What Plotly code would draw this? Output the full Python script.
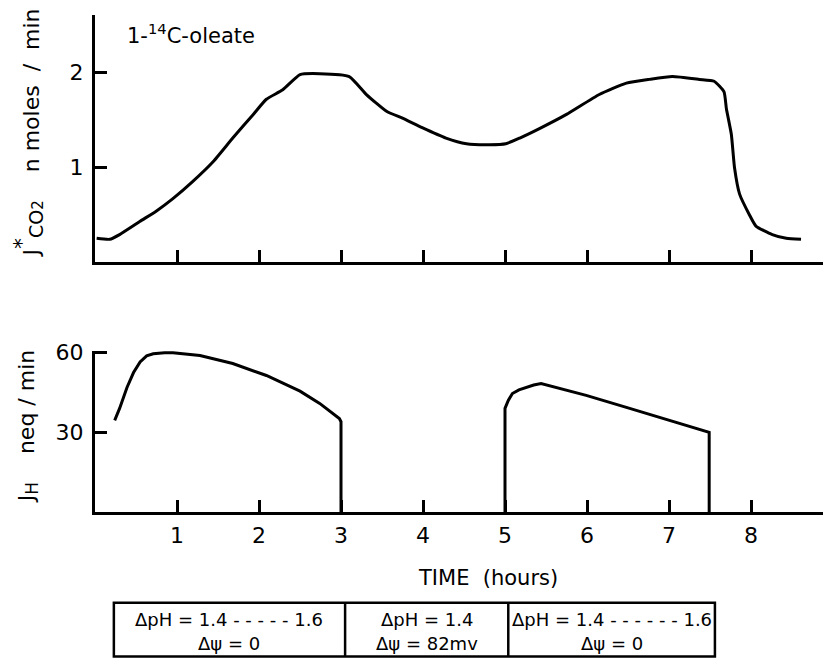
import plotly.graph_objects as go

# ---------------- data ----------------
# Top panel: J*CO2 (n moles / min) versus time (hours)
co2_time = [0.02, 0.18, 0.30, 0.55, 0.75, 0.95, 1.19, 1.44, 1.68, 1.93, 2.09, 2.29,
            2.50, 2.74, 3.10, 3.31, 3.56, 3.75, 3.99, 4.28, 4.53, 4.81, 5.01, 5.18,
            5.42, 5.75, 6.15, 6.48, 6.76, 7.04, 7.37, 7.55, 7.67, 7.70, 7.76, 7.80,
            7.86, 7.98, 8.06, 8.26, 8.43, 8.61]
co2_rate = [0.25, 0.24, 0.29, 0.43, 0.54, 0.67, 0.85, 1.06, 1.31, 1.56, 1.72, 1.82,
            1.98, 1.99, 1.96, 1.77, 1.59, 1.52, 1.42, 1.31, 1.25, 1.24, 1.25, 1.31,
            1.41, 1.56, 1.77, 1.89, 1.93, 1.96, 1.93, 1.91, 1.80, 1.62, 1.35, 0.99,
            0.72, 0.50, 0.38, 0.29, 0.25, 0.24]

# Bottom panel: J_H (neq / min), first and second energised periods
jh1_time = [0.24, 0.30, 0.39, 0.47, 0.55, 0.63, 0.71, 0.85, 0.95, 1.28, 1.68, 2.09,
            2.50, 2.74, 2.98, 3.00, 3.00]
jh1_rate = [34.5, 39.0, 46.9, 52.5, 56.5, 58.8, 59.6, 60.0, 60.0, 58.9, 55.9, 51.4,
            45.5, 40.9, 35.2, 34.0, 0.0]
jh2_time = [5.00, 5.00, 5.04, 5.09, 5.17, 5.26, 5.35, 5.44, 5.99, 6.48, 6.97, 7.49, 7.49]
jh2_rate = [0.0, 39.0, 42.0, 44.6, 46.0, 46.9, 47.8, 48.4, 43.9, 39.4, 34.9, 30.0, 0.0]

x_ticks = [1, 2, 3, 4, 5, 6, 7, 8]
x_tick_labels = ["1", "2", "3", "4", "5", "6", "7", "8"]
co2_ticks = [1, 2]
jh_ticks = [30, 60]

# Experimental phases shown in the table under the time axis
phase_bounds = [0.23, 3.05, 5.04, 7.56]
phase_line1 = ["ΔpH = 1.4 - - - - - 1.6", "ΔpH = 1.4", "ΔpH = 1.4 - - - - - - 1.6"]
phase_line2 = ["Δψ = 0", "Δψ = 82mv", "Δψ = 0"]

# ---------------- layout geometry ----------------
W, H = 828, 659
ML, MR, MT, MB = 95, 5, 13, 147
PH = H - MT - MB


def py(pix):
    """pixel row -> paper y"""
    return (H - MB - pix) / PH


def px(pix):
    """pixel column -> paper x"""
    return (pix - ML) / (W - ML - MR)


FONT = "DejaVu Sans"
BLACK = "black"

fig = go.Figure()
line_style = dict(color=BLACK, width=3)
fig.add_trace(go.Scatter(x=co2_time, y=co2_rate, mode="lines",
                         line=dict(shape="spline", smoothing=0.5, **line_style),
                         xaxis="x", yaxis="y", showlegend=False, hoverinfo="skip"))
fig.add_trace(go.Scatter(x=jh1_time, y=jh1_rate, mode="lines", line=line_style,
                         xaxis="x2", yaxis="y2", showlegend=False, hoverinfo="skip"))
fig.add_trace(go.Scatter(x=jh2_time, y=jh2_rate, mode="lines", line=line_style,
                         xaxis="x2", yaxis="y2", showlegend=False, hoverinfo="skip"))

axis_common = dict(showline=True, linecolor=BLACK, linewidth=3, ticks="inside",
                   ticklen=12, tickwidth=2.5, tickcolor=BLACK, showgrid=False,
                   zeroline=False, tickfont=dict(family=FONT, size=22, color=BLACK))
xmax = (W - ML - MR) / 82.0

fig.update_layout(
    width=W, height=H,
    margin=dict(l=ML, r=MR, t=MT, b=MB),
    paper_bgcolor="white", plot_bgcolor="white",
    font=dict(family=FONT, color=BLACK),
    xaxis=dict(domain=[0, 1], anchor="y", range=[0, xmax], tickvals=x_ticks,
               showticklabels=False, **axis_common),
    yaxis=dict(domain=[py(261), 1], anchor="x", range=[0, (261 - MT) / 95.0],
               tickvals=co2_ticks, ticklabelstandoff=4, **axis_common),
    xaxis2=dict(domain=[0, 1], anchor="y2", range=[0, xmax], tickvals=x_ticks,
                ticktext=x_tick_labels, ticklabelstandoff=2, **axis_common),
    yaxis2=dict(domain=[0, py(350)], anchor="x2", range=[0, (H - MB - 350) / 80.0 * 30],
                tickvals=jh_ticks, ticklabelstandoff=4, **axis_common),
)

shapes = [dict(type="rect", xref="x2", yref="paper", x0=phase_bounds[0], x1=phase_bounds[-1],
               y0=py(657), y1=py(603), line=dict(color=BLACK, width=2.5))]
for b in phase_bounds[1:-1]:
    shapes.append(dict(type="line", xref="x2", yref="paper", x0=b, x1=b,
                       y0=py(657), y1=py(603), line=dict(color=BLACK, width=2.5)))
fig.update_layout(shapes=shapes)

ann = []
for i in range(len(phase_line1)):
    cx = (phase_bounds[i] + phase_bounds[i + 1]) / 2
    ann.append(dict(x=cx, y=py(620), xref="x2", yref="paper", text=phase_line1[i],
                    showarrow=False, font=dict(family=FONT, size=18, color=BLACK),
                    xanchor="center", yanchor="middle"))
    ann.append(dict(x=cx, y=py(644), xref="x2", yref="paper", text=phase_line2[i],
                    showarrow=False, font=dict(family=FONT, size=18, color=BLACK),
                    xanchor="center", yanchor="middle"))

ann.append(dict(x=px(488), y=py(578), xref="paper", yref="paper", text="TIME  (hours)",
                showarrow=False, font=dict(family=FONT, size=21, color=BLACK),
                xanchor="center", yanchor="middle"))
ann.append(dict(x=px(125), y=py(32), xref="paper", yref="paper",
                text="1-<sup>14</sup>C-oleate", showarrow=False,
                font=dict(family=FONT, size=21, color=BLACK),
                xanchor="left", yanchor="middle"))
co2_title = ("J<sup><span style=\"font-size:22px\">*</span></sup>"
             "<sub><span style=\"font-size:19px\">CO</span>"
             "<span style=\"font-size:15px\">2</span></sub>"
             "    n moles  /  min")
ann.append(dict(x=px(28), y=py(132), xref="paper", yref="paper", textangle=-90,
                text=co2_title, showarrow=False,
                font=dict(family=FONT, size=22, color=BLACK),
                xanchor="center", yanchor="middle"))
ann.append(dict(x=px(28), y=py(426), xref="paper", yref="paper", textangle=-90,
                text="J<sub><span style=\"font-size:17px\">H</span></sub>    neq / min",
                showarrow=False,
                font=dict(family=FONT, size=22, color=BLACK),
                xanchor="center", yanchor="middle"))
fig.update_layout(annotations=ann)

fig.write_html("out.html", config={"displayModeBar": False},
               post_script="document.body.style.margin='0';document.body.style.overflow='hidden';")
